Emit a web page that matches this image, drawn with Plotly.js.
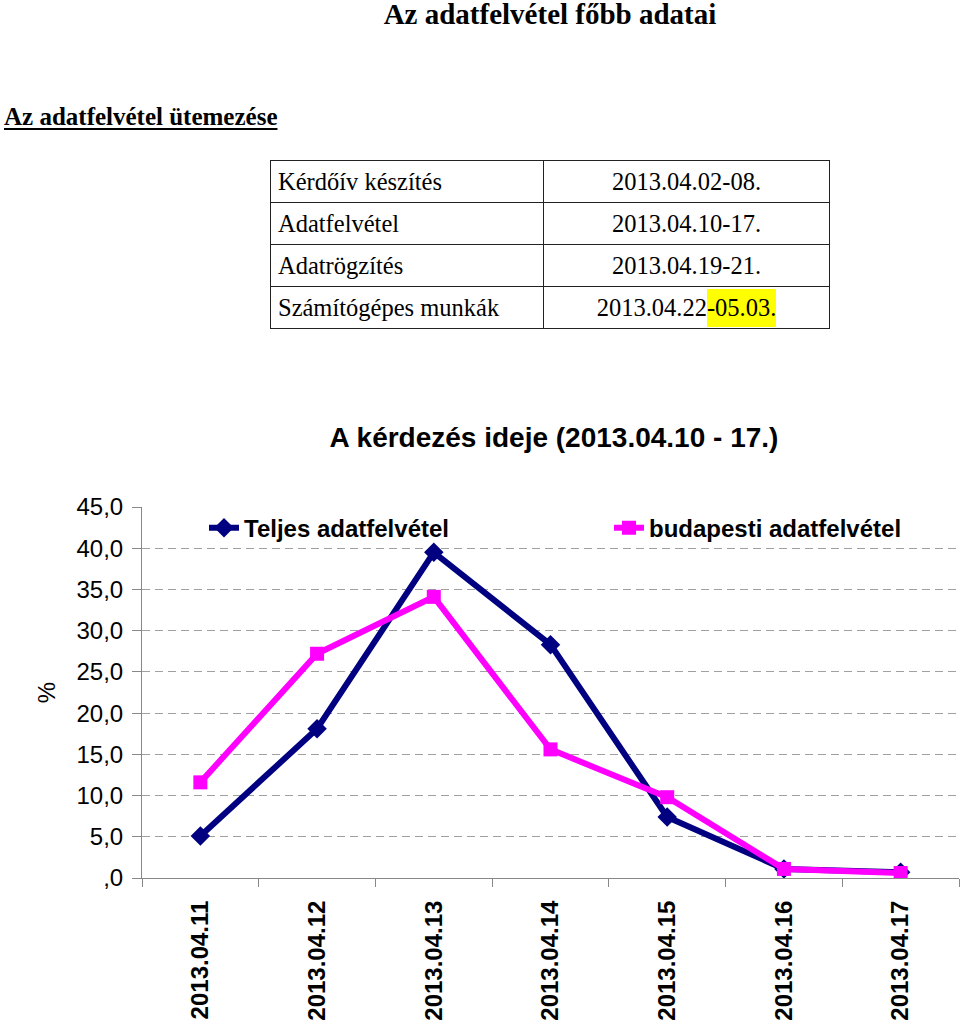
<!DOCTYPE html>
<html>
<head>
<meta charset="utf-8">
<script src="https://cdn.plot.ly/plotly-3.0.1.min.js"></script>
<style>
  html, body { margin:0; padding:0; background:#fff; }
  body { width:960px; height:1024px; overflow:hidden; position:relative;
         font-family:'Liberation Serif','Times New Roman',serif; color:#000; }
  #h1 { position:absolute; left:0; top:0; width:1100px; text-align:center;
        font-weight:bold; font-size:29px; line-height:28px; white-space:nowrap; }
  #h2 { position:absolute; left:4px; top:104px; font-weight:bold; font-size:25px;
        line-height:25px; text-decoration:underline; text-decoration-thickness:2px;
        text-underline-offset:3px; white-space:nowrap; }
  #sched { position:absolute; left:270px; top:160px; border-collapse:collapse; }
  #sched td { border:1.5px solid #222; height:41px; padding:0; font-size:24.5px;
              line-height:26px; white-space:nowrap; vertical-align:middle; }
  #sched td.name { width:265px; padding-left:7px; text-align:left; }
  #sched td.date { width:285px; text-align:center; }
  .hl { background:#ffff00; padding:5px 0 6px 0; }
  #chart { position:absolute; left:0; top:380px; width:960px; height:644px; }
</style>
</head>
<body>
<div id="h1"></div>
<div id="h2"></div>
<table id="sched"><tbody></tbody></table>
<div id="chart"></div>
<script>
// ---- page texts ----
const pageTitle = 'Az adatfelvétel főbb adatai';
const sectionTitle = 'Az adatfelvétel ütemezése';

// ---- schedule table ----
const taskNames = ['Kérdőív készítés', 'Adatfelvétel', 'Adatrögzítés', 'Számítógépes munkák'];
const taskDates = ['2013.04.02-08.', '2013.04.10-17.', '2013.04.19-21.', '2013.04.22'];
const taskDateHighlight = ['', '', '', '-05.03.'];

// ---- chart data ----
const chartTitle = 'A kérdezés ideje (2013.04.10 - 17.)';
const categories = ['2013.04.11', '2013.04.12', '2013.04.13', '2013.04.14', '2013.04.15', '2013.04.16', '2013.04.17'];
const seriesNames = ['Teljes adatfelvétel', 'budapesti adatfelvétel'];
const teljes = [5.1, 18.1, 39.5, 28.3, 7.4, 1.1, 0.7];
const budapesti = [11.6, 27.2, 34.1, 15.6, 9.8, 1.1, 0.6];
const yTickVals = [0, 5, 10, 15, 20, 25, 30, 35, 40, 45];
const yTickText = [',0', '5,0', '10,0', '15,0', '20,0', '25,0', '30,0', '35,0', '40,0', '45,0'];
const yTitle = '%';

document.getElementById('h1').textContent = pageTitle;
document.getElementById('h2').textContent = sectionTitle;

const tbody = document.querySelector('#sched tbody');
taskNames.forEach((name, i) => {
  const tr = document.createElement('tr');
  const td1 = document.createElement('td');
  td1.className = 'name';
  td1.textContent = name;
  const td2 = document.createElement('td');
  td2.className = 'date';
  td2.appendChild(document.createTextNode(taskDates[i]));
  if (taskDateHighlight[i]) {
    const s = document.createElement('span');
    s.className = 'hl';
    s.textContent = taskDateHighlight[i];
    td2.appendChild(s);
  }
  tr.appendChild(td1);
  tr.appendChild(td2);
  tbody.appendChild(tr);
});

const FONT = 'Liberation Sans, Arial, Helvetica, sans-serif';

const traces = [
  {
    type: 'scatter', mode: 'lines+markers', name: seriesNames[0],
    x: categories, y: teljes,
    line: { color: '#000080', width: 6 },
    marker: { symbol: 'diamond', size: 15, color: '#000080' },
    legend: 'legend'
  },
  {
    type: 'scatter', mode: 'lines+markers', name: seriesNames[1],
    x: categories, y: budapesti,
    line: { color: '#ff00ff', width: 6 },
    marker: { symbol: 'square', size: 14, color: '#ff00ff' },
    legend: 'legend2'
  }
];

const legendCommon = {
  y: 0.943, yanchor: 'middle', xanchor: 'left', orientation: 'h',
  bgcolor: 'rgba(0,0,0,0)', borderwidth: 0,
  font: { family: FONT, size: 24, weight: 'bold', color: '#000' }
};

const layout = {
  width: 960, height: 644,
  margin: { l: 142, r: 1, t: 127, b: 146, pad: 0 },
  paper_bgcolor: 'rgba(0,0,0,0)', plot_bgcolor: 'rgba(0,0,0,0)',
  font: { family: FONT, size: 24, color: '#000' },
  title: {
    text: chartTitle, font: { family: FONT, size: 28, weight: 'bold', color: '#000' },
    xref: 'container', yref: 'container', x: 554 / 960, xanchor: 'center',
    y: 1 - 57 / 644, yanchor: 'middle'
  },
  showlegend: true,
  legend: Object.assign({}, legendCommon, { x: (204 - 142) / 817 }),
  legend2: Object.assign({}, legendCommon, { x: (609 - 142) / 817 }),
  xaxis: {
    type: 'category', range: [-0.5, 6.5], tickson: 'boundaries',
    ticks: 'outside', ticklen: 8, tickcolor: '#888', tickwidth: 1,
    showline: true, linecolor: '#888', linewidth: 1,
    showgrid: false, zeroline: false,
    tickangle: -90, ticklabelstandoff: 12,
    tickfont: { family: FONT, size: 24, weight: 'bold', color: '#000' },
    fixedrange: true
  },
  yaxis: {
    range: [0, 45], tickmode: 'array', tickvals: yTickVals, ticktext: yTickText,
    ticks: 'outside', ticklen: 9, tickcolor: '#888', tickwidth: 1,
    showline: true, linecolor: '#888', linewidth: 1,
    showgrid: true, gridcolor: '#a0a0a0', gridwidth: 1, griddash: '8px,5px',
    zeroline: false, ticklabelstandoff: 4,
    tickfont: { family: FONT, size: 24, color: '#000' },
    title: { text: yTitle, font: { family: FONT, size: 24, color: '#000' }, standoff: 14 },
    fixedrange: true
  }
};

Plotly.newPlot('chart', traces, layout, { displayModeBar: false, staticPlot: true });
</script>
</body>
</html>
